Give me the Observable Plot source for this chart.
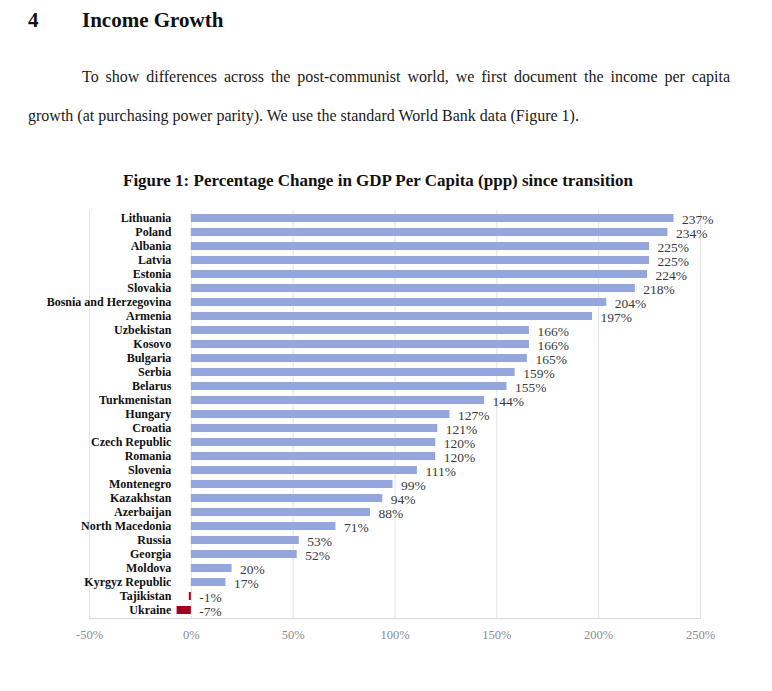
<!DOCTYPE html>
<html>
<head>
<meta charset="utf-8">
<script src="https://cdn.jsdelivr.net/npm/d3@7"></script>
<script src="https://cdn.jsdelivr.net/npm/@observablehq/plot@0.6"></script>
<style>
  html, body { margin: 0; padding: 0; background: #fff; }
  #page { position: relative; width: 772px; height: 691px; font-family: "Liberation Serif", "DejaVu Serif", serif; color: #111; }
  .abs { position: absolute; }
  #h-num { left: 28px; top: 8px; font-size: 21px; font-weight: bold; }
  #h-title { left: 82px; top: 8px; font-size: 21px; font-weight: bold; }
  #p1 { left: 28px; top: 68px; width: 702px; font-size: 16px; text-align: justify; text-align-last: justify; text-indent: 54px; white-space: nowrap; color: #1a1a1a; }
  #p2 { left: 28px; top: 107px; font-size: 16px; color: #1a1a1a; }
  #ftitle { left: 0; top: 171px; width: 756px; text-align: center; font-size: 17px; font-weight: bold; }
  #chart { left: 0; top: 200px; }
</style>
</head>
<body>
<div id="page">
  <div class="abs" id="h-num">4</div>
  <div class="abs" id="h-title">Income Growth</div>
  <div class="abs" id="p1">To show differences across the post-communist world, we first document the income per capita</div>
  <div class="abs" id="p2">growth (at purchasing power parity). We use the standard World Bank data (Figure 1).</div>
  <div class="abs" id="ftitle">Figure 1: Percentage Change in GDP Per Capita (ppp) since transition</div>
  <div class="abs" id="chart"></div>
</div>
<script>
const countries = ["Lithuania","Poland","Albania","Latvia","Estonia","Slovakia","Bosnia and Herzegovina","Armenia","Uzbekistan","Kosovo","Bulgaria","Serbia","Belarus","Turkmenistan","Hungary","Croatia","Czech Republic","Romania","Slovenia","Montenegro","Kazakhstan","Azerbaijan","North Macedonia","Russia","Georgia","Moldova","Kyrgyz Republic","Tajikistan","Ukraine"];
const growth = [237,234,225,225,224,218,204,197,166,166,165,159,155,144,127,121,120,120,111,99,94,88,71,53,52,20,17,-1,-7];
const xTicks = [-50,0,50,100,150,200,250];

const data = countries.map((c, i) => ({country: c, value: growth[i]}));

const chart = Plot.plot({
  width: 772,
  height: 450,
  marginLeft: 89,
  marginRight: 72,
  marginTop: 10,
  marginBottom: 32,
  style: {fontFamily: "'Liberation Serif', serif", background: "transparent"},
  x: {domain: [-50, 250], ticks: xTicks, tickFormat: d => d + "%", label: null},
  y: {domain: countries, paddingInner: 0.42, paddingOuter: 0.2, label: null, axis: null},
  marks: [
    Plot.gridX(xTicks, {stroke: "#e4e4e4", strokeOpacity: 1}),
    Plot.frame({anchor: "bottom", stroke: "#d9d9d9"}),
    Plot.axisX(xTicks, {tickSize: 0, tickPadding: 12, tickFormat: d => d + "%", fill: "#8c8c8c", fontSize: 12.5, label: null}),
    Plot.barX(data, {x: "value", y: "country", fill: d => d.value < 0 ? "#a5001f" : "#94a6db"}),
    Plot.text(data, {x: () => 0, y: "country", text: "country", dx: -20, textAnchor: "end", fontWeight: "bold", fontSize: 12, fill: "#111"}),
    Plot.text(data, {x: d => Math.max(0, d.value), y: "country", text: d => d.value + "%", dx: 8, dy: 1.5, textAnchor: "start", fontSize: 13.5, fill: "#3a3a3a"})
  ]
});
document.getElementById("chart").appendChild(chart);
</script>
</body>
</html>
